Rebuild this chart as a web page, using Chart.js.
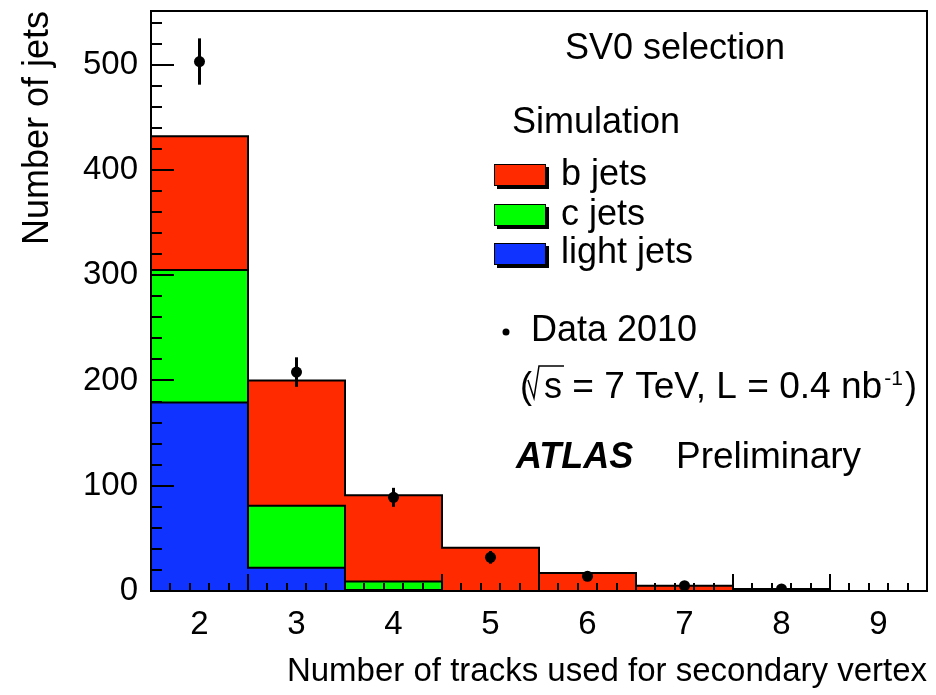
<!DOCTYPE html>
<html>
<head>
<meta charset="utf-8">
<script src="https://cdn.jsdelivr.net/npm/chart.js@4.4.1/dist/chart.umd.min.js"></script>
<style>
    html, body { margin: 0; padding: 0; background: #fff; }
    #wrap { width: 936px; height: 695px; }
</style>
</head>
<body>
<div id="wrap"><canvas id="chartRef" width="936" height="695"></canvas></div>
<script>
// number of tracks per bin, MC stack (bottom to top) and data
const trackBins = ["2", "3", "4", "5", "6", "7", "8", "9"];
const lightJets = [179, 22, 1, 0, 0, 0, 0, 0];
const cJets = [126, 59, 8, 0, 0, 0, 0, 0];
const bJets = [127, 119, 82, 41, 17, 5, 2, 0];
const data2010 = [503, 208, 89, 32, 14, 5, 2, null];
const dataErr = [22, 14, 9, 6, 4, 2, 1, 0];
const yTicks = [0, 100, 200, 300, 400, 500];
const binEdges = [1.5, 2.5, 3.5, 4.5, 5.5, 6.5, 7.5, 8.5, 9.5];

const RED = "#ff2a00";
const GREEN = "#00ff00";
const BLUE = "#1133ff";
const FONT = '"Liberation Sans", Arial, Helvetica, sans-serif';

const cSum = lightJets.map((v, i) => v + cJets[i]);
const totalSum = cSum.map((v, i) => v + bJets[i]);

// outline of a histogram as step points on the bin edges
const stepPoints = (vals) =>
    binEdges.map((x, i) => ({ x, y: vals[Math.min(i, vals.length - 1)] }));

const outline = (vals, key) => ({
    type: "line",
    data: stepPoints(vals),
    xAxisID: "xe",
    stack: key,
    stepped: true,
    borderColor: "#000",
    borderWidth: 2,
    pointRadius: 0,
    fill: false,
    order: 2,
});

const errorBars = {
    id: "errorBars",
    beforeDatasetDraw(chart, args) {
        if (args.index !== 6) return;
        const { ctx, scales: { y } } = chart;
        const meta = chart.getDatasetMeta(6);
        ctx.save();
        ctx.strokeStyle = "#000";
        ctx.lineWidth = 3;
        data2010.forEach((v, i) => {
            if (v == null || !dataErr[i]) return;
            const px = meta.data[i].x;
            ctx.beginPath();
            ctx.moveTo(px, y.getPixelForValue(v + dataErr[i]));
            ctx.lineTo(px, y.getPixelForValue(v - dataErr[i]));
            ctx.stroke();
        });
        ctx.restore();
    },
};

const frameTicks = {
    id: "frameTicks",
    afterDatasetsDraw(chart) {
        const { ctx, chartArea: a, scales: { y, xe } } = chart;
        ctx.save();
        ctx.strokeStyle = "#000";
        ctx.lineWidth = 2;
        ctx.beginPath();
        for (let v = 0; v <= y.max; v += 20) {
            const py = Math.round(y.getPixelForValue(v));
            const len = v % 100 === 0 ? 23 : 11;
            ctx.moveTo(a.left, py);
            ctx.lineTo(a.left + len, py);
        }
        for (let k = 0; 1.5 + k * 0.2 <= 9.5 + 1e-6; k++) {
            const px = Math.round(xe.getPixelForValue(1.5 + k * 0.2));
            const len = k % 5 === 0 ? 17 : 8;
            ctx.moveTo(px, a.bottom);
            ctx.lineTo(px, a.bottom - len);
        }
        ctx.stroke();
        ctx.strokeRect(a.left, a.top, a.width, a.height);
        ctx.restore();
    },
};

const annotations = {
    id: "annotations",
    afterDraw(chart) {
        const ctx = chart.ctx;
        ctx.save();
        ctx.fillStyle = "#000";
        ctx.textBaseline = "alphabetic";
        ctx.font = `36px ${FONT}`;
        ctx.fillText("SV0 selection", 565, 59);
        ctx.fillText("Simulation", 512, 133);

        const entries = [
            [RED, "b jets", 164, 185],
            [GREEN, "c jets", 204, 225],
            [BLUE, "light jets", 243, 263],
        ];
        entries.forEach(([col, label, top, base]) => {
            ctx.fillStyle = "#000";
            ctx.fillRect(497, top + 3, 52, 22);
            ctx.fillStyle = col;
            ctx.fillRect(494, top, 52, 22);
            ctx.strokeStyle = "#000";
            ctx.lineWidth = 1;
            ctx.strokeRect(494.5, top + 0.5, 51, 21);
            ctx.fillStyle = "#000";
            ctx.fillText(label, 561, base);
        });

        // data marker
        ctx.beginPath();
        ctx.arc(506, 332, 3.5, 0, Math.PI * 2);
        ctx.fill();
        ctx.fillText("Data 2010", 531, 341);

        // (sqrt(s) = 7 TeV, L = 0.4 nb^-1)
        const base = 398;
        let x = 520;
        ctx.fillText("(", x, base);
        x += ctx.measureText("(").width;
        const sw = ctx.measureText("s").width;
        ctx.lineWidth = 1.5;
        ctx.beginPath();
        ctx.moveTo(x - 4, base - 18);
        ctx.lineTo(x + 2, base);
        ctx.lineTo(x + 7, base - 32);
        ctx.lineTo(x + 11 + sw + 3, base - 32);
        ctx.stroke();
        x += 12;
        ctx.fillText("s", x, base);
        x += sw;
        const mid = " = 7 TeV, L = 0.4 nb";
        ctx.save();
        ctx.translate(x, base);
        ctx.scale(1.03, 1);
        ctx.fillText(mid, 0, 0);
        ctx.restore();
        x += ctx.measureText(mid).width * 1.03;
        ctx.font = `21px ${FONT}`;
        ctx.fillText("-1", x + 2, base - 13);
        x += ctx.measureText("-1").width + 4;
        ctx.font = `36px ${FONT}`;
        ctx.fillText(")", x, base);

        ctx.font = `italic bold 36px ${FONT}`;
        ctx.fillText("ATLAS", 516, 468);
        ctx.font = `37px ${FONT}`;
        ctx.fillText("Preliminary", 676, 468);
        ctx.restore();
    },
};

const ctx = document.getElementById("chartRef").getContext("2d");
new Chart(ctx, {
    type: "bar",
    data: {
        labels: trackBins,
        datasets: [
            { label: "light jets", data: lightJets, backgroundColor: BLUE, stack: "mc", order: 3 },
            { label: "c jets", data: cJets, backgroundColor: GREEN, stack: "mc", order: 3 },
            { label: "b jets", data: bJets, backgroundColor: RED, stack: "mc", order: 3 },
            outline(totalSum, "o1"),
            outline(cSum, "o2"),
            outline(lightJets, "o3"),
            {
                type: "line",
                label: "Data 2010",
                data: data2010,
                stack: "data",
                showLine: false,
                pointRadius: 5.5,
                pointBorderWidth: 0,
                pointBackgroundColor: "#000",
                borderColor: "#000",
                order: 1,
            },
        ],
    },
    options: {
        responsive: false,
        animation: false,
        layout: { padding: { top: 11, right: 9, left: 0, bottom: 0 } },
        datasets: {
            bar: { grouped: false, barPercentage: 1, categoryPercentage: 1, borderWidth: 0 },
        },
        plugins: { legend: { display: false }, tooltip: { enabled: false } },
        scales: {
            x: {
                stacked: true,
                grid: { display: false, drawTicks: false },
                border: { display: false },
                ticks: { color: "#000", font: { family: FONT, size: 33 }, padding: 14 },
                title: {
                    display: true,
                    text: "Number of tracks used for secondary vertex",
                    align: "end",
                    color: "#000",
                    font: { family: FONT, size: 33 },
                    padding: { top: 3, bottom: 3 },
                },
                afterFit: (s) => { s.height = 104; s.paddingLeft = 0; s.paddingRight = 0; },
            },
            xe: { type: "linear", display: false, offset: false, min: 1.5, max: 9.5 },
            y: {
                stacked: true,
                min: 0,
                max: 551,
                grid: { display: false, drawTicks: false },
                border: { display: false },
                afterBuildTicks: (s) => { s.ticks = yTicks.map((v) => ({ value: v })); },
                ticks: { color: "#000", font: { family: FONT, size: 33 }, padding: 13 },
                title: {
                    display: true,
                    text: "Number of jets",
                    align: "end",
                    color: "#000",
                    font: { family: FONT, size: 36 },
                    padding: { top: 16, bottom: 0 },
                },
                afterFit: (s) => { s.width = 151; s.paddingTop = 0; s.paddingBottom = 0; },
            },
        },
    },
    plugins: [errorBars, frameTicks, annotations],
});
</script>
</body>
</html>
